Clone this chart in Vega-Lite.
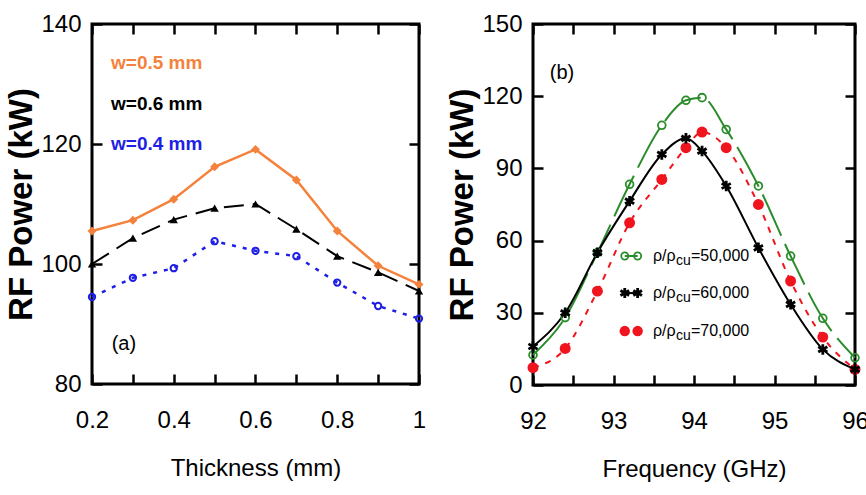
{
  "$schema": "https://vega.github.io/schema/vega-lite/v6.json",
  "background": "white",
  "padding": {"left": 4, "top": 10, "right": 0, "bottom": 5},
  "datasets": {
    "thick": [
      {"t": 0.2, "p": 105.5, "w": "0.5"}, {"t": 0.3, "p": 107.3, "w": "0.5"}, {"t": 0.4, "p": 110.8, "w": "0.5"},
      {"t": 0.5, "p": 116.2, "w": "0.5"}, {"t": 0.6, "p": 119.1, "w": "0.5"}, {"t": 0.7, "p": 114.0, "w": "0.5"},
      {"t": 0.8, "p": 105.5, "w": "0.5"}, {"t": 0.9, "p": 99.7, "w": "0.5"}, {"t": 1.0, "p": 96.6, "w": "0.5"},
      {"t": 0.2, "p": 100.0, "w": "0.6"}, {"t": 0.3, "p": 104.3, "w": "0.6"}, {"t": 0.4, "p": 107.4, "w": "0.6"},
      {"t": 0.5, "p": 109.3, "w": "0.6"}, {"t": 0.6, "p": 110.0, "w": "0.6"}, {"t": 0.7, "p": 105.8, "w": "0.6"},
      {"t": 0.8, "p": 101.3, "w": "0.6"}, {"t": 0.9, "p": 98.6, "w": "0.6"}, {"t": 1.0, "p": 95.5, "w": "0.6"},
      {"t": 0.2, "p": 94.5, "w": "0.4"}, {"t": 0.3, "p": 97.7, "w": "0.4"}, {"t": 0.4, "p": 99.3, "w": "0.4"},
      {"t": 0.5, "p": 103.8, "w": "0.4"}, {"t": 0.6, "p": 102.2, "w": "0.4"}, {"t": 0.7, "p": 101.3, "w": "0.4"},
      {"t": 0.8, "p": 96.9, "w": "0.4"}, {"t": 0.9, "p": 93.0, "w": "0.4"}, {"t": 1.0, "p": 90.9, "w": "0.4"}
    ],
    "freq": [
      {"f": 92.0, "p": 12.5, "r": "50,000"}, {"f": 92.4, "p": 28.0, "r": "50,000"}, {"f": 92.8, "p": 55.0, "r": "50,000"},
      {"f": 93.2, "p": 83.4, "r": "50,000"}, {"f": 93.6, "p": 107.9, "r": "50,000"}, {"f": 93.9, "p": 118.3, "r": "50,000"},
      {"f": 94.1, "p": 119.4, "r": "50,000"}, {"f": 94.4, "p": 106.2, "r": "50,000"}, {"f": 94.8, "p": 82.7, "r": "50,000"},
      {"f": 95.2, "p": 53.6, "r": "50,000"}, {"f": 95.6, "p": 27.7, "r": "50,000"}, {"f": 96.0, "p": 11.3, "r": "50,000"},
      {"f": 92.0, "p": 16.0, "r": "60,000"}, {"f": 92.4, "p": 30.0, "r": "60,000"}, {"f": 92.8, "p": 55.0, "r": "60,000"},
      {"f": 93.2, "p": 76.4, "r": "60,000"}, {"f": 93.6, "p": 95.8, "r": "60,000"}, {"f": 93.9, "p": 102.5, "r": "60,000"},
      {"f": 94.1, "p": 97.2, "r": "60,000"}, {"f": 94.4, "p": 82.7, "r": "60,000"}, {"f": 94.8, "p": 57.0, "r": "60,000"},
      {"f": 95.2, "p": 33.5, "r": "60,000"}, {"f": 95.6, "p": 14.8, "r": "60,000"}, {"f": 96.0, "p": 6.5, "r": "60,000"},
      {"f": 92.0, "p": 7.2, "r": "70,000"}, {"f": 92.4, "p": 15.2, "r": "70,000"}, {"f": 92.8, "p": 39.0, "r": "70,000"},
      {"f": 93.2, "p": 67.4, "r": "70,000"}, {"f": 93.6, "p": 85.4, "r": "70,000"}, {"f": 93.9, "p": 98.6, "r": "70,000"},
      {"f": 94.1, "p": 105.1, "r": "70,000"}, {"f": 94.4, "p": 98.6, "r": "70,000"}, {"f": 94.8, "p": 75.0, "r": "70,000"},
      {"f": 95.2, "p": 43.2, "r": "70,000"}, {"f": 95.6, "p": 19.9, "r": "70,000"}, {"f": 96.0, "p": 6.5, "r": "70,000"}
    ]
  },
  "spacing": 17,
  "hconcat": [
    {
      "width": 327,
      "height": 360,
      "data": {"name": "thick"},
      "layer": [
        {
          "encoding": {
            "x": {"field": "t", "type": "quantitative", "scale": {"domain": [0.2, 1.0], "nice": false, "zero": false},
                  "axis": {"title": "Thickness (mm)", "values": [0.2, 0.3, 0.4, 0.5, 0.6, 0.7, 0.8, 0.9, 1.0],
                           "labelExpr": "round(datum.value * 10) % 2 == 0 ? format(datum.value, '~g') : ''"}},
            "y": {"field": "p", "type": "quantitative", "scale": {"domain": [80, 140], "nice": false, "zero": false},
                  "axis": {"title": "RF Power (kW)", "values": [80, 100, 120, 140]}}
          },
          "layer": [
            {"transform": [{"filter": "datum.w == '0.5'"}], "mark": {"type": "line", "color": "#F4823C", "strokeWidth": 2.5}},
            {"transform": [{"filter": "datum.w == '0.5'"}], "mark": {"type": "point", "shape": "diamond", "filled": true, "color": "#F4823C", "size": 80, "opacity": 1}},
            {"transform": [{"filter": "datum.w == '0.6'"}], "mark": {"type": "line", "color": "black", "strokeWidth": 2, "strokeDash": [20, 9]}},
            {"transform": [{"filter": "datum.w == '0.6'"}], "mark": {"type": "point", "shape": "triangle-up", "filled": true, "color": "black", "size": 70, "opacity": 1}},
            {"transform": [{"filter": "datum.w == '0.4'"}], "mark": {"type": "line", "color": "#1E1EE6", "strokeWidth": 2.5, "strokeDash": [4, 7]}},
            {"transform": [{"filter": "datum.w == '0.4'"}], "mark": {"type": "point", "shape": "circle", "filled": false, "color": "#1E1EE6", "size": 40, "strokeWidth": 2, "opacity": 1}},
            {"transform": [{"filter": "datum.w == '0.5' && datum.t == 0.2"}],
             "mark": {"type": "text", "align": "left", "baseline": "middle", "font": "Liberation Sans", "fontSize": 19, "fontWeight": "bold", "color": "#F4823C"},
             "encoding": {"x": {"datum": 0.2465}, "y": {"datum": 133.5}, "text": {"value": "w=0.5 mm"}}},
            {"transform": [{"filter": "datum.w == '0.6' && datum.t == 0.2"}],
             "mark": {"type": "text", "align": "left", "baseline": "middle", "font": "Liberation Sans", "fontSize": 19, "fontWeight": "bold", "color": "black"},
             "encoding": {"x": {"datum": 0.2465}, "y": {"datum": 126.7}, "text": {"value": "w=0.6 mm"}}},
            {"transform": [{"filter": "datum.w == '0.4' && datum.t == 0.2"}],
             "mark": {"type": "text", "align": "left", "baseline": "middle", "font": "Liberation Sans", "fontSize": 19, "fontWeight": "bold", "color": "#1E1EE6"},
             "encoding": {"x": {"datum": 0.2465}, "y": {"datum": 120.0}, "text": {"value": "w=0.4 mm"}}},
            {"transform": [{"filter": "datum.w == '0.5' && datum.t == 0.2"}],
             "mark": {"type": "text", "align": "center", "baseline": "middle", "font": "Liberation Sans", "fontSize": 20, "color": "black"},
             "encoding": {"x": {"datum": 0.278}, "y": {"datum": 86.7}, "text": {"value": "(a)"}}}
          ]
        },
        {
          "mark": {"type": "point", "opacity": 0},
          "encoding": {
            "x": {"field": "t", "type": "quantitative", "axis": {"orient": "top", "labels": false, "title": null, "values": [0.2, 0.3, 0.4, 0.5, 0.6, 0.7, 0.8, 0.9, 1.0]}},
            "y": {"field": "p", "type": "quantitative", "axis": {"orient": "right", "labels": false, "title": null, "values": [80, 100, 120, 140]}}
          }
        }
      ],
      "resolve": {"axis": {"x": "independent", "y": "independent"}}
    },
    {
      "width": 322,
      "height": 361,
      "data": {"name": "freq"},
      "layer": [
        {
          "encoding": {
            "x": {"field": "f", "type": "quantitative", "scale": {"domain": [92, 96], "nice": false, "zero": false},
                  "axis": {"title": "Frequency (GHz)", "values": [92, 92.5, 93, 93.5, 94, 94.5, 95, 95.5, 96],
                           "labelExpr": "datum.value % 1 == 0 ? format(datum.value, 'd') : ''"}},
            "y": {"field": "p", "type": "quantitative", "scale": {"domain": [0, 150], "nice": false},
                  "axis": {"title": "RF Power (kW)", "values": [0, 30, 60, 90, 120, 150]}}
          },
          "layer": [
            {"transform": [{"filter": "datum.r == '70,000'"}], "mark": {"type": "line", "color": "#F0141E", "strokeWidth": 2, "strokeDash": [6, 7], "interpolate": "monotone"}},
            {"transform": [{"filter": "datum.r == '50,000'"}], "mark": {"type": "line", "color": "#2B8C2B", "strokeWidth": 2, "strokeDash": [45, 9], "interpolate": "monotone"}},
            {"transform": [{"filter": "datum.r == '60,000'"}], "mark": {"type": "line", "color": "black", "strokeWidth": 2, "interpolate": "monotone"}},
            {"transform": [{"filter": "datum.r == '70,000'"}], "mark": {"type": "point", "shape": "circle", "filled": true, "color": "#F0141E", "size": 120, "opacity": 1}},
            {"transform": [{"filter": "datum.r == '50,000'"}], "mark": {"type": "point", "shape": "circle", "filled": false, "color": "#2B8C2B", "size": 60, "strokeWidth": 1.8, "opacity": 1}},
            {"transform": [{"filter": "datum.r == '60,000'"}], "mark": {"type": "point", "shape": "M0,-1L0,1M-0.87,-0.5L0.87,0.5M-0.87,0.5L0.87,-0.5", "filled": false, "color": "black", "size": 110, "strokeWidth": 2.8, "opacity": 1}},

            {"transform": [{"filter": "datum.r == '50,000' && datum.f == 92"}], "mark": {"type": "rule", "color": "#2B8C2B", "strokeWidth": 2},
             "encoding": {"x": {"datum": 93.14}, "x2": {"datum": 93.30}, "y": {"datum": 53.6}}},
            {"transform": [{"filter": "datum.r == '50,000' && datum.f == 92"}], "mark": {"type": "point", "shape": "circle", "filled": false, "color": "#2B8C2B", "size": 50, "strokeWidth": 1.8, "opacity": 1},
             "encoding": {"x": {"datum": 93.14}, "y": {"datum": 53.6}}},
            {"transform": [{"filter": "datum.r == '50,000' && datum.f == 92"}], "mark": {"type": "point", "shape": "circle", "filled": false, "color": "#2B8C2B", "size": 50, "strokeWidth": 1.8, "opacity": 1},
             "encoding": {"x": {"datum": 93.30}, "y": {"datum": 53.6}}},
            {"transform": [{"filter": "datum.r == '60,000' && datum.f == 92"}], "mark": {"type": "rule", "color": "black", "strokeWidth": 2},
             "encoding": {"x": {"datum": 93.14}, "x2": {"datum": 93.30}, "y": {"datum": 38.2}}},
            {"transform": [{"filter": "datum.r == '60,000' && datum.f == 92"}], "mark": {"type": "point", "shape": "M0,-1L0,1M-0.87,-0.5L0.87,0.5M-0.87,0.5L0.87,-0.5", "filled": false, "color": "black", "size": 100, "strokeWidth": 2.8, "opacity": 1},
             "encoding": {"x": {"datum": 93.14}, "y": {"datum": 38.2}}},
            {"transform": [{"filter": "datum.r == '60,000' && datum.f == 92"}], "mark": {"type": "point", "shape": "M0,-1L0,1M-0.87,-0.5L0.87,0.5M-0.87,0.5L0.87,-0.5", "filled": false, "color": "black", "size": 100, "strokeWidth": 2.8, "opacity": 1},
             "encoding": {"x": {"datum": 93.30}, "y": {"datum": 38.2}}},
            {"transform": [{"filter": "datum.r == '70,000' && datum.f == 92"}], "mark": {"type": "point", "shape": "circle", "filled": true, "color": "#F0141E", "size": 110, "opacity": 1},
             "encoding": {"x": {"datum": 93.14}, "y": {"datum": 22.4}}},
            {"transform": [{"filter": "datum.r == '70,000' && datum.f == 92"}], "mark": {"type": "point", "shape": "circle", "filled": true, "color": "#F0141E", "size": 110, "opacity": 1},
             "encoding": {"x": {"datum": 93.30}, "y": {"datum": 22.4}}},

            {"transform": [{"filter": "datum.r == '50,000' && datum.f == 92"}], "mark": {"type": "text", "align": "left", "baseline": "middle", "font": "Liberation Sans", "fontSize": 16, "color": "black"},
             "encoding": {"x": {"datum": 93.49}, "y": {"datum": 53.6}, "text": {"value": "ρ/ρ"}}},
            {"transform": [{"filter": "datum.r == '50,000' && datum.f == 92"}], "mark": {"type": "text", "align": "left", "baseline": "middle", "font": "Liberation Sans", "fontSize": 14, "color": "black", "dx": 23, "dy": 5},
             "encoding": {"x": {"datum": 93.49}, "y": {"datum": 53.6}, "text": {"value": "cu"}}},
            {"transform": [{"filter": "datum.r == '50,000' && datum.f == 92"}], "mark": {"type": "text", "align": "left", "baseline": "middle", "font": "Liberation Sans", "fontSize": 16, "color": "black", "dx": 38},
             "encoding": {"x": {"datum": 93.49}, "y": {"datum": 53.6}, "text": {"value": "=50,000"}}},
            {"transform": [{"filter": "datum.r == '60,000' && datum.f == 92"}], "mark": {"type": "text", "align": "left", "baseline": "middle", "font": "Liberation Sans", "fontSize": 16, "color": "black"},
             "encoding": {"x": {"datum": 93.49}, "y": {"datum": 38.2}, "text": {"value": "ρ/ρ"}}},
            {"transform": [{"filter": "datum.r == '60,000' && datum.f == 92"}], "mark": {"type": "text", "align": "left", "baseline": "middle", "font": "Liberation Sans", "fontSize": 14, "color": "black", "dx": 23, "dy": 5},
             "encoding": {"x": {"datum": 93.49}, "y": {"datum": 38.2}, "text": {"value": "cu"}}},
            {"transform": [{"filter": "datum.r == '60,000' && datum.f == 92"}], "mark": {"type": "text", "align": "left", "baseline": "middle", "font": "Liberation Sans", "fontSize": 16, "color": "black", "dx": 38},
             "encoding": {"x": {"datum": 93.49}, "y": {"datum": 38.2}, "text": {"value": "=60,000"}}},
            {"transform": [{"filter": "datum.r == '70,000' && datum.f == 92"}], "mark": {"type": "text", "align": "left", "baseline": "middle", "font": "Liberation Sans", "fontSize": 16, "color": "black"},
             "encoding": {"x": {"datum": 93.49}, "y": {"datum": 22.4}, "text": {"value": "ρ/ρ"}}},
            {"transform": [{"filter": "datum.r == '70,000' && datum.f == 92"}], "mark": {"type": "text", "align": "left", "baseline": "middle", "font": "Liberation Sans", "fontSize": 14, "color": "black", "dx": 23, "dy": 5},
             "encoding": {"x": {"datum": 93.49}, "y": {"datum": 22.4}, "text": {"value": "cu"}}},
            {"transform": [{"filter": "datum.r == '70,000' && datum.f == 92"}], "mark": {"type": "text", "align": "left", "baseline": "middle", "font": "Liberation Sans", "fontSize": 16, "color": "black", "dx": 38},
             "encoding": {"x": {"datum": 93.49}, "y": {"datum": 22.4}, "text": {"value": "=70,000"}}},
            {"transform": [{"filter": "datum.r == '50,000' && datum.f == 92"}], "mark": {"type": "text", "align": "center", "baseline": "middle", "font": "Liberation Sans", "fontSize": 20, "color": "black"},
             "encoding": {"x": {"datum": 92.36}, "y": {"datum": 129.6}, "text": {"value": "(b)"}}}
          ]
        },
        {
          "mark": {"type": "point", "opacity": 0},
          "encoding": {
            "x": {"field": "f", "type": "quantitative", "axis": {"orient": "top", "labels": false, "title": null, "values": [92, 92.5, 93, 93.5, 94, 94.5, 95, 95.5, 96]}},
            "y": {"field": "p", "type": "quantitative", "axis": {"orient": "right", "labels": false, "title": null, "values": [0, 30, 60, 90, 120, 150]}}
          }
        }
      ],
      "resolve": {"axis": {"x": "independent", "y": "independent"}}
    }
  ],
  "config": {
    "view": {"stroke": "black", "strokeWidth": 3},
    "axis": {
      "domain": false,
      "grid": false,
      "zindex": 1,
      "tickSize": -10,
      "tickWidth": 2.5,
      "tickColor": "black",
      "labelFont": "Liberation Sans",
      "labelFontSize": 24,
      "labelColor": "black",
      "labelFlush": false,
      "labelOverlap": false,
      "titleColor": "black"
    },
    "axisX": {"labelPadding": 34, "titleFont": "Liberation Sans", "titleFontWeight": "normal", "titleFontSize": 24, "titlePadding": 24},
    "axisY": {"labelPadding": 21, "titleFont": "Liberation Sans", "titleFontWeight": "bold", "titleFontSize": 33, "titlePadding": 2}
  }
}
